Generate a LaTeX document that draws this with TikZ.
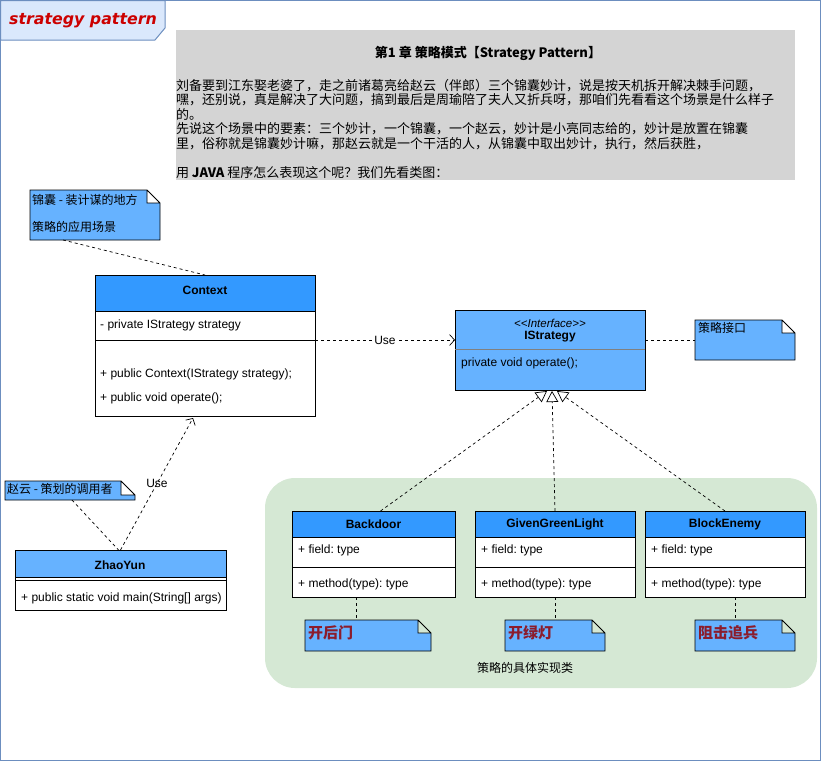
\documentclass[tikz,border=0pt]{standalone}
\usepackage{fontspec}
\setmainfont{Liberation Sans}
\newfontfamily\cjk{Noto Sans CJK SC}
\newfontfamily\tabfont{DejaVu Sans}
\usetikzlibrary{arrows.meta,calc}
\definecolor{frameblue}{HTML}{6C8EBF}
\definecolor{tabfill}{HTML}{DAE8FC}
\definecolor{tabred}{HTML}{CC0000}
\definecolor{headblue}{HTML}{3399FF}
\definecolor{noteblue}{HTML}{66B2FF}
\definecolor{textgray}{HTML}{D4D4D4}
\definecolor{implgreen}{HTML}{D5E8D4}
\definecolor{notered}{HTML}{8B1C2C}
\frenchspacing
\begin{document}
\begin{tikzpicture}[x=1pt, y=-1pt,
    box/.style={draw, line width=0.8pt, anchor=north west, inner sep=0, outer sep=0},
    notebox/.style={anchor=north west, inner sep=0, outer sep=0},
    lbl/.style={font=\fontsize{12}{14}\selectfont, inner sep=0, anchor=west},
    ttl/.style={font=\bfseries\fontsize{12}{14}\selectfont, inner sep=0},
    zh/.style={font=\cjk\fontsize{12}{14}\selectfont, inner sep=0, anchor=west},
    zhred/.style={font=\cjk\bfseries\fontsize{15}{17}\selectfont, text=notered, inner sep=0, anchor=west},
    link/.style={dash pattern=on 3pt off 3pt, line width=0.7pt},
    use/.style={link, -{Straight Barb[length=5pt,width=11pt]}},
    impl/.style={link, -{Triangle[length=11pt,width=12pt,fill=white]}}]
\useasboundingbox (0,0) rectangle (821,761);
\draw[frameblue, line width=1pt] (0.5,0.5) rectangle (820.5,760.5);
\draw[frameblue, fill=tabfill, line width=1pt] (0.5,0.5) -- (165,0.5) -- (165,28) -- (155,40) -- (0.5,40) -- cycle;
\node[font=\tabfont\bfseries\itshape\fontsize{15.8}{18}\selectfont, text=tabred, inner sep=0] (tab) at (83,21) {strategy pattern};

\node[notebox, fill=textgray, minimum width=619pt, minimum height=150pt] (intro) at (176,30) {};
\node[font=\cjk\bfseries\fontsize{13}{15}\selectfont, inner sep=0] (intro-title) at (488,53) {第1 章 策略模式【Strategy Pattern】};
\node[notebox, font=\cjk\fontsize{13}{14.5}\selectfont, align=left] (intro-text) at (176,79) {%
刘备要到江东娶老婆了，走之前诸葛亮给赵云（伴郎）三个锦囊妙计，说是按天机拆开解决棘手问题，\\
嘿，还别说，真是解决了大问题，搞到最后是周瑜陪了夫人又折兵呀，那咱们先看看这个场景是什么样子\\
的。\\
先说这个场景中的要素：三个妙计，一个锦囊，一个赵云，妙计是小亮同志给的，妙计是放置在锦囊\\
里，俗称就是锦囊妙计嘛，那赵云就是一个干活的人，从锦囊中取出妙计，执行，然后获胜，\\[14.5pt]
用 \textbf{JAVA} 程序怎么表现这个呢？我们先看类图：};

\fill[implgreen, rounded corners=30pt] (265,478) rectangle (817,688);
\node[zh, anchor=center] (impl-lbl) at (525,668) {策略的具体实现类};

\node[box, fill=white, minimum width=220pt, minimum height=141pt] (ctx) at (95,275) {};
\draw[line width=0.8pt, fill=headblue] (ctx.north west) rectangle ($(ctx.north east)+(0,36)$);
\draw[line width=0.8pt] ($(ctx.north west)+(0,65)$) -- ($(ctx.north east)+(0,65)$);
\node[ttl] (ctx-name) at (205,290) {Context};
\node[lbl] (ctx-attr) at (100,325) {- private IStrategy strategy};
\node[lbl] (ctx-m1) at (100,374) {+ public Context(IStrategy strategy);};
\node[lbl] (ctx-m2) at (100,398) {+ public void operate();};

\node[box, fill=noteblue, minimum width=190pt, minimum height=80pt] (istr) at (455,310) {};
\draw[gray, line width=0.6pt] ($(istr.north west)+(0,39)$) -- ($(istr.north east)+(0,39)$);
\node[font=\itshape\fontsize{11.5}{13}\selectfont, inner sep=0] (istr-st) at (550,323) {\textless\kern0pt\textless Interface\textgreater\kern0pt\textgreater};
\node[ttl] (istr-name) at (550,337) {IStrategy};
\node[lbl] (istr-op) at (461,363) {private void operate();};

\node[box, fill=white, minimum width=211pt, minimum height=60pt] (zy) at (15,550) {};
\draw[line width=0.8pt, fill=noteblue] (zy.north west) rectangle ($(zy.north east)+(0,27)$);
\draw[line width=0.8pt] ($(zy.north west)+(0,30)$) -- ($(zy.north east)+(0,30)$);
\node[ttl] (zy-name) at (120,565) {ZhaoYun};
\node[lbl] (zy-m) at (21,598) {+ public static void main(String[] args)};

\foreach \nm/\cls/\xa/\w in {bd/Backdoor/292/163, ggl/GivenGreenLight/475/160, be/BlockEnemy/645/160} {
    \node[box, fill=white, minimum width={\w*1pt}, minimum height=86pt] (\nm) at (\xa,511) {};
    \draw[line width=0.8pt, fill=headblue] (\nm.north west) rectangle ($(\nm.north east)+(0,26)$);
    \draw[line width=0.8pt] ($(\nm.north west)+(0,56)$) -- ($(\nm.north east)+(0,56)$);
    \node[ttl] (\nm-name) at (\xa+\w/2,524) {\cls};
    \node[lbl] (\nm-field) at (\xa+6,550) {+ field: type};
    \node[lbl] (\nm-meth) at (\xa+6,584) {+ method(type): type};
}

\foreach \nm/\xa/\ya/\xb/\yb/\f in {n-ctx/30/190/160/240/13, n-istr/695/320/795/360/13, n-zy/5/481/135/500/14, bd-note/305/620/431/651/13, ggl-note/505/620/605/651/13, be-note/695/620/795/651/13} {
    \draw[line width=0.8pt, fill=noteblue] (\xa,\ya) -- (\xb-\f,\ya) -- (\xb,\ya+\f) -- (\xb,\yb) -- (\xa,\yb) -- cycle
        (\xb-\f,\ya) -- (\xb-\f,\ya+\f) -- (\xb,\ya+\f);
    \node[notebox, minimum width={(\xb-\xa)*1pt}, minimum height={(\yb-\ya)*1pt}] (\nm) at (\xa,\ya) {};
}
\node[zh] (n-ctx-a) at (32,200) {锦囊 - 装计谋的地方};
\node[zh] (n-ctx-b) at (32,227) {策略的应用场景};
\node[zh] (n-istr-t) at (698,328) {策略接口};
\node[zh] (n-zy-t) at (7,489) {赵云 - 策划的调用者};
\foreach \nm/\txt in {bd/开后门, ggl/开绿灯, be/阻击追兵}
    \node[zhred] (\nm-notetxt) at ($(\nm-note.north west)+(3,13)$) {\txt};

\draw[link] ($(n-ctx.south west)+(33,0)$) -- (ctx.north);
\draw[use] ($(ctx.north east)+(0,65)$) -- node[lbl, anchor=center, fill=white, inner sep=1pt] (use-istr) {Use} ($(istr.north west)+(0,30)$);
\draw[link] ($(istr.north east)+(0,30)$) -- (n-istr.west);
\draw[link] ($(n-zy.south west)+(67,0)$) -- ($(zy.north)+(-2,0)$);
\draw[use] (zy.north) -- ($(ctx.south)+(-12,2)$);
\node[lbl, anchor=center] (use-ctx) at (157,483) {Use};
\foreach \nm/\dx/\tx in {bd/7/-3, ggl/0/2, be/0/7}
    \draw[impl] ($(\nm.north)+(\dx,0)$) -- ($(istr.south)+(\tx,1)$);
\foreach \nm/\cx in {bd/64, ggl/80, be/90} {
    \coordinate (\nm-c) at ($(\nm.south west)+(\cx,0)$);
    \draw[link] (\nm-c) -- (\nm-c |- \nm-note.north);
}
\end{tikzpicture}
\end{document}
